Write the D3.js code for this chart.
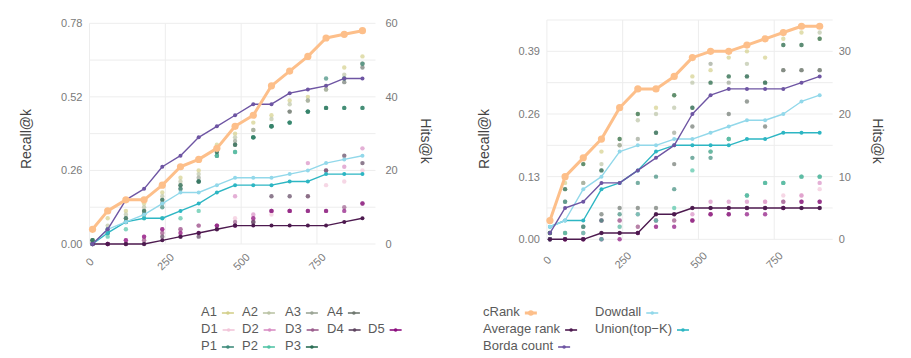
<!DOCTYPE html>
<html><head><meta charset="utf-8">
<script src="https://cdn.jsdelivr.net/npm/d3@7"></script>
<style>
body{margin:0;background:#fff;}
text{font-family:"Liberation Sans",Arial,sans-serif;}
</style></head>
<body>
<svg id="c" width="911" height="358"></svg>
<script>
// ---------- data (hits@k; recall = hits / N) ----------
const N = 77;
const K = [10,60,120,180,240,300,360,420,480,540,600,660,720,780,840,900];
const xTicks = [0,250,500,750];
const hitTicksL = [0,20,40,60];
const hitTicksR = [0,10,20,30];

// left panel methods
const cRankL   = [4,9,12,12,16,21,23,26,32,35,43,47,51,56,57,58];
const avgRankL = [0,0,0,0,1,2,3,4,5,5,5,5,5,5,6,7];
const bordaL   = [0,4,12,15,21,24,29,32,35,38,38,41,42,43,45,45];
const dowdallL = [0,4,6,8,11,14,14,16,18,18,18,19,20,22,23,24];
const unionL   = [0,3,6,7,7,9,11,14,16,16,16,17,17,19,19,19];
// left panel rankers
const A1L = [1,7,9,11,14,18,20,27,30,33,35,39,40,43,48,51];
const A2L = [1,5,8,10,13,17,19,26,29,31,34,38,39,42,46,49];
const A3L = [1,4,7,9,12,16,18,25,28,31,32,36,39,42,45,49];
const A4L = [0,3,6,8,11,15,17,24,27,29,32,36,36,37,44,48];
const D1L = [0,0,0,1,3,3,3,4,7,7,8,9,13,16,17,20];
const D2L = [0,0,1,2,4,4,5,5,13,8,9,9,22,20,21,26];
const D3L = [0,0,0,1,3,4,5,5,6,6,9,9,9,9,10,11];
const D4L = [0,0,0,0,2,2,2,4,5,6,13,13,13,20,24,22];
const D5L = [0,0,1,2,4,3,3,5,5,7,9,9,9,9,9,11];
const P1L = [1,3,6,8,10,15,17,24,25,29,32,33,36,45,45,49];
const P2L = [0,2,4,7,7,7,9,24,25,29,32,33,36,37,37,37];
const P3L = [1,4,7,9,12,16,17,25,27,29,32,33,36,37,37,37];

// right panel methods
const cRankR   = [3,10,13,16,21,24,24,26,29,30,30,31,32,33,34,34];
const avgRankR = [0,0,0,1,1,1,4,4,5,5,5,5,5,5,5,5];
const bordaR   = [1,5,6,9,9,11,13,15,20,23,24,24,24,24,25,26];
const dowdallR = [2,3,8,10,14,15,15,16,16,17,18,19,19,20,22,23];
const unionR   = [2,3,3,8,9,11,14,15,15,15,15,16,16,17,17,17];
// right panel rankers
const A1R = [1,9,12,14,16,20,21,23,26,27,29,30,29,32,33,32];
const A2R = [1,8,9,12,15,19,20,21,25,25,26,28,25,31,31,33];
const A3R = [1,6,9,11,15,16,17,17,21,28,25,26,25,27,27,27];
const A4R = [0,1,2,4,5,5,5,12,18,14,20,22,18,27,27,27];
const D1R = [0,0,1,0,2,2,2,3,3,4,5,5,6,7,7,8];
const D2R = [0,0,1,3,3,4,3,4,4,6,6,6,6,6,7,9];
const D3R = [0,0,0,3,3,2,3,3,3,4,4,5,5,6,6,6];
const D4R = [0,0,0,1,1,1,4,4,5,5,5,5,5,5,5,5];
const D5R = [0,0,0,0,0,1,2,2,3,4,4,4,4,5,6,6];
const P1R = [1,6,2,3,4,9,10,8,13,13,16,7,9,9,10,10];
const P2R = [0,1,1,0,2,4,3,5,11,14,16,7,9,9,10,10];
const P3R = [1,8,12,11,16,20,17,23,21,25,26,26,25,31,31,32];

const rankerNames = ["A1","A2","A3","A4","D1","D2","D3","D4","D5","P1","P2","P3"];
const methodNames = ["cRank","Average rank","Borda count","Dowdall","Union(top\u2212K)"];

// ---------- styles ----------
const rankerColor = {A1:"#d4d08c",A2:"#bcc4a6",A3:"#9ca596",A4:"#6f7870",
  D1:"#f2c6da",D2:"#d98fc4",D3:"#9c5f8f",D4:"#5e4560",D5:"#8c0f7f",
  P1:"#3f8c7c",P2:"#52c4a6",P3:"#2b6e55"};
const methodColor = {"cRank":"#fdbf8a","Average rank":"#4d1a4f","Borda count":"#6e55a3",
  "Dowdall":"#92d8ea","Union(top\u2212K)":"#2db6c3"};

const svg = d3.select("#c");

function panel(cfg){
  const x = d3.scaleLinear().domain([0,943]).range([cfg.x0, cfg.x1]);
  const y = d3.scaleLinear().domain([0,cfg.hmax]).range([cfg.yb, cfg.yt]);
  const yRec = d3.scaleLinear().domain([0,cfg.hmax/N]).range([cfg.yb, cfg.yt]);
  const g = svg.append("g");
  // gridlines
  g.append("g").selectAll("line").data(d3.range(0,cfg.hmax+0.1,cfg.gridStep)).join("line")
    .attr("x1",cfg.x0).attr("x2",cfg.x1).attr("y1",d=>y(d)).attr("y2",d=>y(d))
    .attr("stroke","#ededed").attr("stroke-width",1);
  g.append("g").selectAll("line").data(xTicks).join("line")
    .attr("x1",d=>x(d)).attr("x2",d=>x(d)).attr("y1",cfg.yt).attr("y2",cfg.yb)
    .attr("stroke","#ededed").attr("stroke-width",1);
  // left recall axis
  const ax1 = d3.axisLeft(yRec).tickValues(cfg.hitTicks.map(h=>h/N)).tickFormat(d3.format(".2f")).tickSize(0).tickPadding(7);
  const a1 = g.append("g").attr("transform",`translate(${cfg.x0},0)`).call(ax1);
  // right hits axis
  const ax2 = d3.axisRight(y).tickValues(cfg.hitTicks).tickSize(0).tickPadding(cfg.rpad);
  const a2 = g.append("g").attr("transform",`translate(${cfg.x1},0)`).call(ax2);
  // x axis
  const ax3 = d3.axisBottom(x).tickValues(xTicks).tickSize(0).tickPadding(0);
  const a3 = g.append("g").attr("transform",`translate(0,${cfg.yb})`).call(ax3);
  a3.selectAll("text").attr("text-anchor","middle").attr("dy","0.32em")
    .attr("transform",`translate(0,${cfg.xoff}) rotate(-45)`).attr("y",0);
  [a1,a2,a3].forEach(a=>{a.select(".domain").remove();
    a.selectAll("text").attr("fill","#7a7a7a").style("font-size","11px").style("font-family","Liberation Sans, Arial, sans-serif");});
  // axis titles
  g.append("text").attr("transform",`translate(${cfg.tl},139) rotate(-90)`).attr("text-anchor","middle")
    .attr("dominant-baseline","middle").attr("fill","#444").style("font-size","14px").text("Recall@k");
  g.append("text").attr("transform",`translate(${cfg.tr},141) rotate(90)`).attr("text-anchor","middle")
    .attr("dominant-baseline","middle").attr("fill","#444").style("font-size","14px").text("Hits@k");
  // ranker dots
  cfg.rankers.forEach((arr,i)=>{
    const nm = rankerNames[i];
    g.append("g").selectAll("circle").data(arr).join("circle")
      .attr("cx",(d,j)=>x(K[j])).attr("cy",d=>y(d)).attr("r",2.2)
      .attr("fill",rankerColor[nm]).attr("opacity",0.7);
  });
  // method lines (draw cRank last)
  const order = [4,3,1,2,0];
  order.forEach(i=>{
    const nm = methodNames[i], arr = cfg.methods[i];
    const big = nm==="cRank";
    const line = d3.line().x((d,j)=>x(K[j])).y(d=>y(d));
    g.append("path").datum(arr).attr("d",line).attr("fill","none")
      .attr("stroke",methodColor[nm]).attr("stroke-width",big?3:1.4).attr("stroke-linejoin","round");
    g.append("g").selectAll("circle").data(arr).join("circle")
      .attr("cx",(d,j)=>x(K[j])).attr("cy",d=>y(d)).attr("r",big?3.6:2)
      .attr("fill",methodColor[nm]);
  });
}

panel({x0:89.5,x1:375.5,yb:244,yt:23.3,hmax:60,gridStep:10,hitTicks:hitTicksL,tl:27,tr:425,rpad:10,xoff:18,
  methods:[cRankL,avgRankL,bordaL,dowdallL,unionL],
  rankers:[A1L,A2L,A3L,A4L,D1L,D2L,D3L,D4L,D5L,P1L,P2L,P3L]});
panel({x0:546.9,x1:832.7,yb:239.3,yt:20,hmax:35,gridStep:5,hitTicks:hitTicksR,tl:485,tr:877,rpad:6,xoff:21,
  methods:[cRankR,avgRankR,bordaR,dowdallR,unionR],
  rankers:[A1R,A2R,A3R,A4R,D1R,D2R,D3R,D4R,D5R,P1R,P2R,P3R]});

// ---------- legends ----------
function legendItem(px,py,label,color,big){
  const g = svg.append("g");
  const t = g.append("text").attr("x",px).attr("y",py).attr("dominant-baseline","middle")
    .attr("fill","#5a5a5a").style("font-size","13px").text(label);
  const w = t.node().getComputedTextLength();
  const sx = px + w + 5;
  g.append("line").attr("x1",sx).attr("x2",sx+12).attr("y1",py).attr("y2",py)
    .attr("stroke",color).attr("stroke-width",big?3:1.6);
  g.append("circle").attr("cx",sx+6).attr("cy",py).attr("r",big?2.8:1.8).attr("fill",color);
}
const legCols = [201,242,285,327,368];
const legRows = [313,330,347];
const legLayout = [["A1","A2","A3","A4"],["D1","D2","D3","D4","D5"],["P1","P2","P3"]];
legLayout.forEach((row,ri)=>row.forEach((nm,ci)=>legendItem(legCols[ci],legRows[ri],nm,rankerColor[nm],false)));

const mLegPos = [[483,313],[483,330],[483,347],[595,313],[595,330]];
methodNames.forEach((nm,i)=>legendItem(mLegPos[i][0],mLegPos[i][1],nm,methodColor[nm],nm==="cRank"));
</script>
</body></html>
